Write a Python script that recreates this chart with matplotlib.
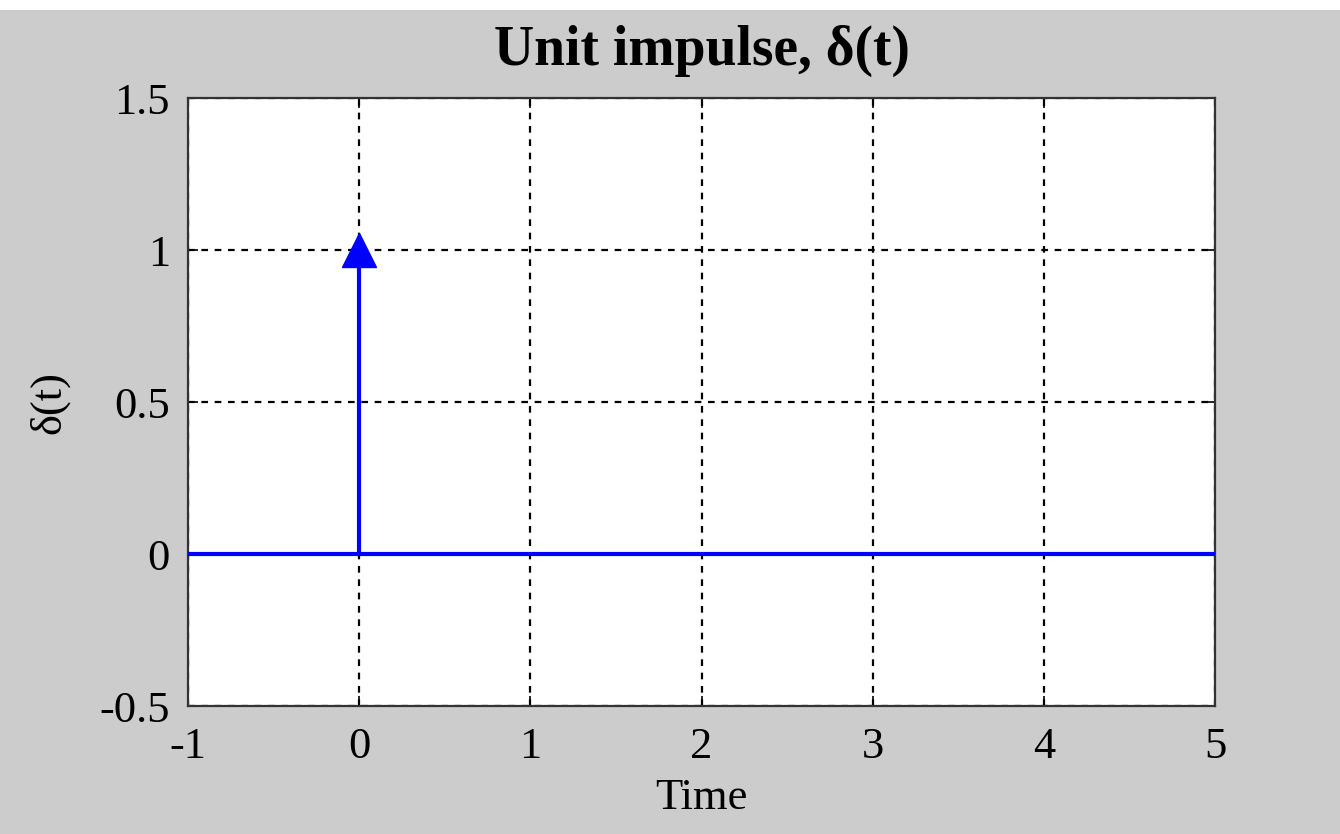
import matplotlib.pyplot as plt
from matplotlib.patches import Rectangle

# impulse data
t_line = [-1, 5]
y_line = [0, 0]
t_stem = [0, 0]
y_stem = [0, 1]
x_ticks = [-1, 0, 1, 2, 3, 4, 5]
y_ticks = [-0.5, 0, 0.5, 1, 1.5]
y_ticklabels = ['-0.5', '0', '0.5', '1', '1.5']

plt.rcParams['font.family'] = ['Liberation Serif', 'DejaVu Serif']

fig = plt.figure(figsize=(13.4, 8.34), dpi=100, facecolor='#cccccc')
fig.patches.append(Rectangle((0, 1 - 10 / 834), 1, 10 / 834, transform=fig.transFigure,
                             facecolor='white', edgecolor='none', zorder=0))
ax = fig.add_axes([188 / 1340, 1 - 706 / 834, (1215 - 188) / 1340, (706 - 98) / 834])

ax.plot(t_line, y_line, color='#0000ff', lw=3, zorder=3)
ax.plot(t_stem, y_stem, color='#0000ff', lw=3, zorder=3)
ax.plot([t_stem[1]], [y_stem[1]], marker='^', color='#0000ff', ms=24, zorder=4, clip_on=False)

ax.set_xlim(-1, 5)
ax.set_ylim(-0.5, 1.5)
ax.set_xticks(x_ticks)
ax.set_xticklabels([str(v) for v in x_ticks])
ax.set_yticks(y_ticks)
ax.set_yticklabels(y_ticklabels)
ax.grid(True, color='black', linestyle=(0, (3, 3)), linewidth=1.6)
ax.tick_params(direction='in', length=7, width=1.2, top=True, right=True,
               labelsize=32)
ax.tick_params(axis='x', pad=15)
ax.tick_params(axis='y', pad=13)
for s in ax.spines.values():
    s.set_linewidth(1.6)
    s.set_color('#333333')

ax.set_title('Unit impulse, δ(t)', fontsize=40, fontweight='bold', pad=24)
ax.set_xlabel('Time', fontsize=32, labelpad=8)
ax.set_ylabel('δ(t)', fontsize=32, labelpad=22)

fig.savefig('out.png', dpi=100, facecolor=fig.get_facecolor())
